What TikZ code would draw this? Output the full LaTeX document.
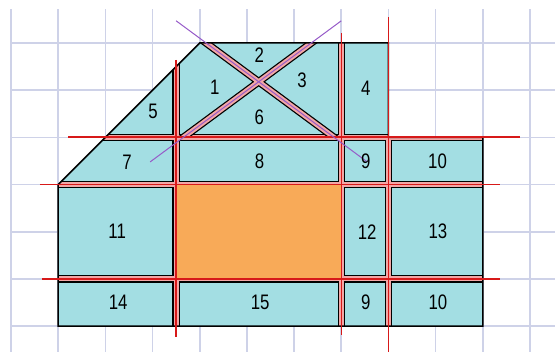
\documentclass[tikz,border=0pt]{standalone}
\usepackage{fontspec}
\setmainfont{Liberation Sans}
\usetikzlibrary{positioning}
\definecolor{gridc}{RGB}{206,210,232}
\definecolor{piecec}{RGB}{163,222,227}
\definecolor{gapc}{RGB}{242,166,166}
\definecolor{cutc}{RGB}{215,25,25}
\definecolor{holec}{RGB}{248,170,88}
\definecolor{diagc}{RGB}{150,90,200}
\newcommand{\boardpath}{(4,0) -- (8,0) -- (8,2) -- (10,2) -- (10,6) -- (1,6) -- (1,3) -- cycle}
\newcommand{\pnum}[1]{\scalebox{0.8}[1]{#1}}
\tikzset{
gridline/.style={draw=gridc,line width=1.7pt},
gapedge/.style={draw=black,line width=7.5pt},
gapband/.style={draw=gapc,line width=5pt},
outline/.style={draw=black,line width=1.5pt,line join=miter},
cutline/.style={draw=cutc,line width=1.5pt},
diagline/.style={draw=diagc,line width=1pt},
num/.style={font=\fontsize{21}{21}\selectfont,inner sep=0pt}
}

\begin{document}
\begin{tikzpicture}[x=47.18pt,y=-47.18pt]
\useasboundingbox (-0.233,-0.911) rectangle (11.53,6.549);
% grid
\foreach \i in {0,...,11} \draw[gridline] (\i,-0.72) -- (\i,6.549);
\foreach \j in {0,...,6} \draw[gridline] (0,\j) -- (11.53,\j);

% board
\fill[piecec] \boardpath;
\begin{scope}
\clip \boardpath;
\draw[gapedge] (0,2) -- (11,2) (0,3) -- (11,3) (0,5) -- (11,5);
\draw[gapedge] (3.5,0) -- (3.5,7) (7,0) -- (7,7) (8,2) -- (8,7);
\draw[gapband] (0,2) -- (11,2) (0,3) -- (11,3) (0,5) -- (11,5);
\draw[gapband] (3.5,0) -- (3.5,7) (7,0) -- (7,7) (8,2) -- (8,7);
\begin{scope}
\clip (3.5,0) rectangle (7,2);
\draw[gapedge] (3.5,-0.47) -- (7.55,2.52) (7,-0.47) -- (2.95,2.52);
\draw[gapband] (3.5,-0.47) -- (7.55,2.52) (7,-0.47) -- (2.95,2.52);
\end{scope}
\end{scope}
\draw[outline] \boardpath;
\fill[holec] (3.5,3) rectangle (7,5);

% cuts
\draw[cutline] (1.21,1.99) -- (10.79,1.99);
\draw[cutline] (0.61,3) -- (10.36,3);
\draw[cutline] (0.66,5) -- (10.36,5);
\draw[cutline] (3.5,0.36) -- (3.5,6.23);
\draw[cutline] (7.01,-0.21) -- (7.01,6.19);
\draw[cutline] (8,-0.55) -- (8,6.549);
\draw[diagline] (3.5,-0.47) -- (7.55,2.52);
\draw[diagline] (7,-0.47) -- (2.95,2.52);

% labels
\node[num] (p1) at (4.32,0.93) {\pnum{1}};
\node[num] (p2) at (5.26,0.25) {\pnum{2}};
\node[num] (p3) at (6.17,0.78) {\pnum{3}};
\node[num] (p4) at (7.52,0.97) {\pnum{4}};
\node[num] (p5) at (3.01,1.46) {\pnum{5}};
\node[num] (p6) at (5.26,1.57) {\pnum{6}};
\node[num] (p7) at (2.46,2.52) {\pnum{7}};
\node[num] (p8) at (5.27,2.5) {\pnum{8}};
\node[num] (p9) at (7.52,2.5) {\pnum{9}};
\node[num] (p10) at (9.04,2.5) {\pnum{10}};
\node[num] (p11) at (2.25,4) {\pnum{11}};
\node[num] (p12) at (7.55,4) {\pnum{12}};
\node[num] (p13) at (9.05,4) {\pnum{13}};
\node[num] (p14) at (2.27,5.49) {\pnum{14}};
\node[num] (p15) at (5.28,5.49) {\pnum{15}};
\node[num] (p9b) at (7.52,5.49) {\pnum{9}};
\node[num] (p10b) at (9.05,5.49) {\pnum{10}};
\end{tikzpicture}
\end{document}
